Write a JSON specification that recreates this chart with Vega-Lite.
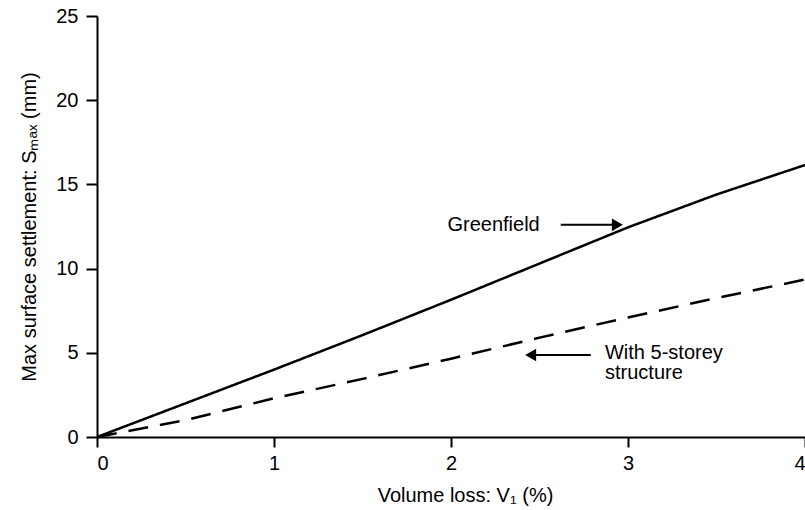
{
  "$schema": "https://vega.github.io/schema/vega-lite/v6.json",
  "autosize": {"type": "none"},
  "width": 708,
  "height": 421,
  "padding": {"left": 97, "top": 16, "right": 0, "bottom": 73},
  "background": "white",
  "config": {
    "view": {"stroke": null},
    "font": "Liberation Sans",
    "axis": {"grid": false, "domainColor": "black", "domainWidth": 2, "tickColor": "black", "tickWidth": 2, "labelColor": "black", "titleColor": "black", "labelFont": "Liberation Sans", "titleFont": "Liberation Sans", "labelFontSize": 20, "titleFontSize": 20, "titleFontWeight": "normal"}
  },
  "datasets": {
    "lines": [
      {"series": "Greenfield", "v": 0, "s": 0},
      {"series": "Greenfield", "v": 0.5, "s": 2.0},
      {"series": "Greenfield", "v": 1, "s": 4.0},
      {"series": "Greenfield", "v": 1.5, "s": 6.05},
      {"series": "Greenfield", "v": 2, "s": 8.15},
      {"series": "Greenfield", "v": 2.5, "s": 10.3},
      {"series": "Greenfield", "v": 3, "s": 12.45},
      {"series": "Greenfield", "v": 3.5, "s": 14.4},
      {"series": "Greenfield", "v": 4, "s": 16.15},
      {"series": "With 5-storey structure", "v": 0, "s": 0},
      {"series": "With 5-storey structure", "v": 0.5, "s": 1.0},
      {"series": "With 5-storey structure", "v": 1, "s": 2.3},
      {"series": "With 5-storey structure", "v": 1.5, "s": 3.45},
      {"series": "With 5-storey structure", "v": 2, "s": 4.65},
      {"series": "With 5-storey structure", "v": 2.5, "s": 5.9},
      {"series": "With 5-storey structure", "v": 3, "s": 7.1},
      {"series": "With 5-storey structure", "v": 3.5, "s": 8.25},
      {"series": "With 5-storey structure", "v": 4, "s": 9.35}
    ],
    "arrows": [
      {"x1": 2.62, "x2": 2.92, "y": 12.6, "head": 2.94, "shape": "triangle-right"},
      {"x1": 2.79, "x2": 2.47, "y": 4.87, "head": 2.45, "shape": "triangle-left"}
    ],
    "labels": [
      {"x": 1.98, "y": 12.6, "text": "Greenfield"},
      {"x": 2.87, "y": 4.98, "text": "With 5-storey\nstructure"}
    ]
  },
  "layer": [
    {
      "data": {"name": "lines"},
      "mark": {"type": "line", "color": "black", "strokeWidth": 2.5, "clip": true},
      "encoding": {
        "x": {"field": "v", "type": "quantitative", "scale": {"domain": [0, 4], "nice": false}, "axis": {"title": "Volume loss: V₁ (%)", "values": [0, 1, 2, 3, 4], "format": "d", "tickSize": 10, "labelPadding": 6, "titlePadding": 12, "titleX": 368}},
        "y": {"field": "s", "type": "quantitative", "scale": {"domain": [0, 25], "nice": false}, "axis": {"title": "Max surface settlement: Sₘₐₓ (mm)", "values": [0, 5, 10, 15, 20, 25], "tickSize": 11, "labelPadding": 8, "titlePadding": 16}},
        "detail": {"field": "series"},
        "strokeDash": {"field": "series", "type": "nominal", "scale": {"domain": ["Greenfield", "With 5-storey structure"], "range": [[1, 0], [20, 12]]}, "legend": null}
      }
    },
    {
      "data": {"name": "arrows"},
      "mark": {"type": "rule", "color": "black", "strokeWidth": 2},
      "encoding": {
        "x": {"field": "x1", "type": "quantitative"},
        "x2": {"field": "x2"},
        "y": {"field": "y", "type": "quantitative"}
      }
    },
    {
      "data": {"name": "arrows"},
      "mark": {"type": "point", "filled": true, "color": "black", "opacity": 1, "size": 160},
      "encoding": {
        "x": {"field": "head", "type": "quantitative"},
        "y": {"field": "y", "type": "quantitative"},
        "shape": {"field": "shape", "type": "nominal", "scale": {"domain": ["triangle-right", "triangle-left"], "range": ["triangle-right", "triangle-left"]}, "legend": null}
      }
    },
    {
      "data": {"name": "labels"},
      "mark": {"type": "text", "align": "left", "baseline": "middle", "fontSize": 20, "lineHeight": 20, "lineBreak": "\n", "color": "black", "font": "Liberation Sans"},
      "encoding": {
        "x": {"field": "x", "type": "quantitative"},
        "y": {"field": "y", "type": "quantitative"},
        "text": {"field": "text"}
      }
    }
  ]
}
